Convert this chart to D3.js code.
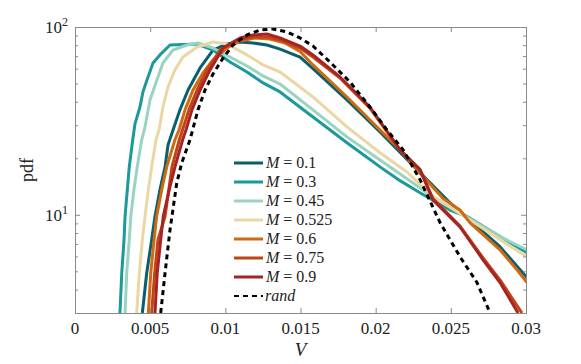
<!DOCTYPE html>
<meta charset="utf-8">
<style>
body { margin: 0; background: #fff; }
.frame line, .frame path { stroke: #8a8a8a; }
.curve { fill: none; stroke-width: 3px; stroke-linejoin: round; }
</style>
<body>
<div id="plotHere"></div>
<script src="https://cdn.jsdelivr.net/npm/d3@7/dist/d3.min.js"></script>
<script>
// ---------------- data (V, pdf) ----------------
const xTicks = [0, 0.005, 0.01, 0.015, 0.02, 0.025, 0.03];
const xTickLabels = ["0", "0.005", "0.01", "0.015", "0.02", "0.025", "0.03"];
const yMajor = [10, 100];
const yMinor = [3, 4, 5, 6, 7, 8, 9, 20, 30, 40, 50, 60, 70, 80, 90];

const labels = ["0.1", "0.3", "0.45", "0.525", "0.6", "0.75", "0.9"];
const colors = ["#0b5e6e", "#1b999b", "#98d4c0", "#ead7a4", "#d0690f", "#bf4517", "#a72424"];

const m010 = [[0.00448,3.0],[0.00477,4.9],[0.00510,7.36],[0.00532,9.8],[0.00565,13.6],[0.00599,18.0],[0.00619,23.6],
  [0.00652,28.3],[0.00698,36.2],[0.00752,46.2],[0.00832,60.5],[0.00918,75.4],[0.01011,81.2],[0.01098,83.2],[0.01184,82.2],
  [0.01277,80.2],[0.01364,76.3],[0.01497,69.2],[0.01583,60.0],[0.01809,40.9],[0.02029,27.6],[0.02341,15.4],[0.02494,11.6],
  [0.02827,6.76],[0.03007,4.63]];
const m030 = [[0.00299,3.0],[0.00311,4.9],[0.00326,7.36],[0.00333,9.8],[0.00348,13.6],[0.00361,18.0],[0.00384,25.1],
  [0.00399,30.5],[0.00432,37.5],[0.00452,45.1],[0.00479,52.3],[0.00519,64.3],[0.00565,71.0],[0.00632,80.2],[0.00812,81.2],
  [0.00918,75.4],[0.01031,65.1],[0.01144,57.6],[0.01251,50.4],[0.01364,45.1],[0.01583,33.2],[0.01809,24.2],[0.02029,18.0],
  [0.02162,15.2],[0.02295,13.1],[0.02494,10.6],[0.02608,9.79],[0.02827,7.65],[0.03007,6.28]];
const m045 = [[0.00333,3.0],[0.00344,4.9],[0.00361,7.36],[0.00371,9.8],[0.00392,13.6],[0.00414,18.0],[0.00444,25.1],
  [0.00466,29.4],[0.00499,40.9],[0.00545,52.3],[0.00585,64.3],[0.00652,75.4],[0.00745,80.2],[0.00818,82.2],[0.00918,77.3],
  [0.01031,69.2],[0.01144,62.0],[0.01251,54.9],[0.01364,49.7],[0.01583,36.2],[0.01809,26.0],[0.02029,19.6],[0.02182,16.1],
  [0.02341,13.1],[0.02561,10.2],[0.02827,7.65],[0.03007,6.51]];
const m0525 = [[0.00410,3.0],[0.00428,4.9],[0.00448,7.36],[0.00466,9.8],[0.00488,13.6],[0.00510,18.0],[0.00539,25.1],
  [0.00559,28.3],[0.00585,37.5],[0.00619,48.0],[0.00665,59.1],[0.00718,69.2],[0.00812,78.3],[0.00918,83.2],[0.01011,81.2],
  [0.01144,71.0],[0.01251,62.8],[0.01364,57.6],[0.01583,42.4],[0.01809,29.4],[0.02029,21.4],[0.02208,16.9],[0.02381,12.5],
  [0.02608,9.63],[0.02827,7.36],[0.03007,5.98]];
const m060 = [[0.00488,3.0],[0.00504,4.9],[0.00526,7.36],[0.00543,9.8],[0.00577,13.6],[0.00610,18.0],[0.00665,25.1],
  [0.00692,28.3],[0.00732,36.2],[0.00785,46.2],[0.00851,56.9],[0.00918,66.8],[0.01011,77.3],[0.01098,84.2],[0.01197,87.4],
  [0.01297,86.3],[0.01397,82.2],[0.01497,74.0],[0.01583,62.8],[0.01809,42.4],[0.02029,28.3],[0.02162,22.2],[0.02295,16.7],
  [0.02448,12.2],[0.02561,10.6],[0.02628,9.06],[0.02827,6.51],[0.02940,5.10],[0.03007,4.36]];
const m075 = [[0.00510,3.0],[0.00530,4.9],[0.00552,7.36],[0.00599,9.8],[0.00645,18.0],[0.00694,25.1],[0.00758,36.2],
  [0.00812,46.2],[0.00878,59.1],[0.00965,75.4],[0.01078,85.3],[0.01184,88.5],[0.01277,88.5],[0.01364,85.3],[0.01497,77.3],
  [0.01583,69.2],[0.01763,53.5],[0.01962,37.0],[0.02162,22.2],[0.02295,17.4],[0.02381,12.2],[0.02561,8.7],[0.02714,5.9],
  [0.02827,4.5],[0.02973,3.0]];
const m090 = [[0.00532,3.0],[0.00547,4.9],[0.00570,7.36],[0.00587,9.8],[0.00627,13.6],[0.00665,18.0],[0.00716,25.1],
  [0.00738,28.3],[0.00778,36.2],[0.00832,46.2],[0.00898,59.1],[0.00985,77.3],[0.01098,87.4],[0.01184,90.7],[0.01277,91.8],
  [0.01364,87.4],[0.01497,79.2],[0.01583,71.0],[0.01763,54.2],[0.01962,37.5],[0.02162,22.2],[0.02295,17.4],[0.02381,12.0],
  [0.02561,8.63],[0.02714,5.76],[0.02827,4.36],[0.02947,3.0]];
const rand = [[0.00570,3.0],[0.00599,4.9],[0.00632,8.32],[0.00677,14.8],[0.00710,18.9],[0.00765,25.1],[0.00818,36.2],
  [0.00865,46.2],[0.00918,56.2],[0.00985,68.4],[0.01051,80.2],[0.01144,90.7],[0.01231,96.4],[0.01317,97.6],[0.01410,94.1],
  [0.01497,87.4],[0.01583,79.2],[0.01696,65.1],[0.01829,51.0],[0.01962,37.5],[0.02075,28.3],[0.02182,22.2],[0.02295,15.4],
  [0.02428,9.1],[0.02561,5.98],[0.02674,4.36],[0.02761,3.0]];

const series = [m010, m030, m045, m0525, m060, m075, m090];

// ---------------- svg ----------------
const W = 581, H = 364;
const margin = {left: 75, right: 526, top: 27, bottom: 313};
const serif = "Liberation Serif";

const svg = d3.select("#plotHere").append("svg")
    .attr("width", W).attr("height", H)
    .attr("font-family", serif).attr("fill", "#222");

const x = d3.scaleLinear().domain([0, 0.03]).range([margin.left, margin.right]);
const y = d3.scaleLog().domain([3, 100]).range([margin.bottom, margin.top]);

svg.append("clipPath").attr("id", "clip")
  .append("rect").attr("x", margin.left).attr("y", margin.top)
  .attr("width", margin.right - margin.left).attr("height", margin.bottom - margin.top);

const line = d3.line().x(d => x(d[0])).y(d => y(d[1]));

const plot = svg.append("g").attr("clip-path", "url(#clip)");
series.forEach(function(s, i) {
  plot.append("path").datum(s).attr("class", "curve")
    .attr("stroke", colors[i]).attr("d", line);
});
plot.append("path").datum(rand).attr("class", "curve")
  .attr("stroke", "#000").attr("stroke-width", 2)
  .attr("stroke-dasharray", "5,4").attr("d", line);

// ---------------- axes (ticks inward on all four sides) ----------------
svg.append("g").attr("class", "frame")
  .attr("transform", "translate(0," + margin.bottom + ")")
  .call(d3.axisBottom(x).tickValues(xTicks).tickSize(-5).tickFormat(""));
svg.append("g").attr("class", "frame")
  .attr("transform", "translate(0," + margin.top + ")")
  .call(d3.axisTop(x).tickValues(xTicks).tickSize(-5).tickFormat(""));

[[d3.axisLeft, margin.left], [d3.axisRight, margin.right]].forEach(function(a) {
  svg.append("g").attr("class", "frame")
    .attr("transform", "translate(" + a[1] + ",0)")
    .call(a[0](y).tickValues(yMajor).tickSize(-5).tickFormat(""));
  svg.append("g").attr("class", "frame")
    .attr("transform", "translate(" + a[1] + ",0)")
    .call(a[0](y).tickValues(yMinor).tickSize(-3).tickFormat(""));
});

// x tick labels
svg.append("g").attr("font-size", 17).selectAll("text").data(xTicks).join("text")
  .attr("x", d => x(d)).attr("y", margin.bottom + 21)
  .attr("text-anchor", "middle")
  .text((d, i) => xTickLabels[i]);

// y labels 10^1, 10^2
yMajor.forEach(function(v) {
  const t = svg.append("text").attr("font-size", 17)
    .attr("x", margin.left - 7).attr("y", y(v) + 6).attr("text-anchor", "end");
  t.append("tspan").text("10");
  t.append("tspan").attr("dy", -7).attr("font-size", 12).text(Math.round(Math.log10(v)));
});

svg.append("text").attr("font-size", 18)
  .attr("transform", "translate(33," + ((margin.top + margin.bottom) / 2) + ") rotate(-90)")
  .attr("text-anchor", "middle").text("pdf");
svg.append("text").attr("font-size", 19).attr("font-style", "italic")
  .attr("x", (margin.left + margin.right) / 2).attr("y", 356)
  .attr("text-anchor", "middle").text("V");

// ---------------- legend ----------------
const lg = svg.append("g").attr("transform", "translate(234,163)").attr("font-size", 16);
labels.forEach(function(l, i) {
  const r = lg.append("g").attr("transform", "translate(0," + i * 19 + ")");
  r.append("line").attr("x1", 0).attr("x2", 29).attr("stroke", colors[i]).attr("stroke-width", 3);
  const t = r.append("text").attr("x", 32).attr("y", 5);
  t.append("tspan").attr("font-style", "italic").text("M");
  t.append("tspan").text(" = " + l);
});
const rr = lg.append("g").attr("transform", "translate(0," + 7 * 19 + ")");
rr.append("line").attr("x1", 0).attr("x2", 29).attr("stroke", "#000")
  .attr("stroke-width", 2).attr("stroke-dasharray", "5,4");
rr.append("text").attr("x", 31).attr("y", 5).attr("font-style", "italic").text("rand");
</script>
</body>
